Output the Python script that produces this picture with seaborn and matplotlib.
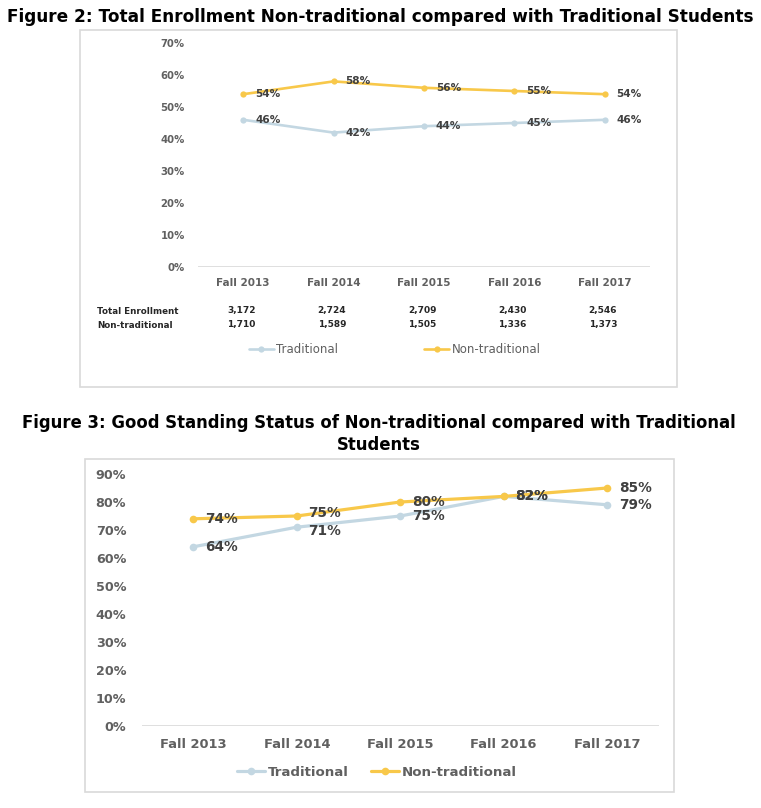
import matplotlib
matplotlib.use("Agg")
import matplotlib.pyplot as plt
import matplotlib.transforms as mtransforms
from matplotlib.patches import Rectangle
import seaborn as sns
import pandas as pd

# ---------------- data ----------------
terms = ["Fall 2013", "Fall 2014", "Fall 2015", "Fall 2016", "Fall 2017"]
series_names = ["Traditional", "Non-traditional"]

enroll_traditional = [0.46, 0.42, 0.44, 0.45, 0.46]
enroll_nontraditional = [0.54, 0.58, 0.56, 0.55, 0.54]
total_enrollment = ["3,172", "2,724", "2,709", "2,430", "2,546"]
nontraditional_count = ["1,710", "1,589", "1,505", "1,336", "1,373"]
table_row_labels = ["Total Enrollment", "Non-traditional"]

good_traditional = [0.64, 0.71, 0.75, 0.82, 0.79]
good_nontraditional = [0.74, 0.75, 0.80, 0.82, 0.85]

title1 = "Figure 2: Total Enrollment Non-traditional compared with Traditional Students"
title2a = "Figure 3: Good Standing Status of Non-traditional compared with Traditional"
title2b = "Students"

y1_ticks = [0, 0.1, 0.2, 0.3, 0.4, 0.5, 0.6, 0.7]
y2_ticks = [0, 0.1, 0.2, 0.3, 0.4, 0.5, 0.6, 0.7, 0.8, 0.9]

# ---------------- style ----------------
sns.set_style("white")
plt.rcParams["font.family"] = ["DejaVu Sans"]

C_TRAD = "#c3d7e2"
C_NON = "#f8c84a"
C_TICK = "#606060"
C_LABEL = "#404040"
C_GRID = "#d9d9d9"
palette = {"Traditional": C_TRAD, "Non-traditional": C_NON}

W, H = 761, 808
fig = plt.figure(figsize=(W / 100, H / 100), dpi=100)
fig.patch.set_facecolor("white")


def fx(x):
    return x / W


def fy(y):
    return 1 - y / H


def long_df(trad, non):
    return pd.DataFrame({
        "term": terms * 2,
        "pct": list(trad) + list(non),
        "group": [series_names[0]] * len(terms) + [series_names[1]] * len(terms),
    })


# boxes around the charts
for (x0, y0, x1, y1) in [(80, 30, 677, 387), (85, 459, 674, 792)]:
    fig.patches.append(Rectangle((fx(x0), fy(y1)), fx(x1) - fx(x0), fy(y0) - fy(y1),
                                 transform=fig.transFigure, fill=False,
                                 edgecolor=C_GRID, linewidth=1.2, zorder=0))


def style_axes(ax, ymax, yticks, ytick_fs, xtick_fs, ypad, xpad):
    ax.set_xlim(-0.5, len(terms) - 0.5)
    ax.set_ylim(0, ymax)
    ax.set_yticks(yticks)
    ax.set_yticklabels([f"{int(round(t * 100))}%" for t in yticks])
    ax.set_xticks(range(len(terms)))
    ax.set_xticklabels(terms)
    for s in ax.spines.values():
        s.set_visible(False)
    ax.grid(False)
    ax.axhline(0, color=C_GRID, lw=1.2, zorder=1)
    ax.tick_params(axis="y", length=0, pad=ypad, labelsize=ytick_fs, labelcolor=C_TICK)
    ax.tick_params(axis="x", length=0, pad=xpad, labelsize=xtick_fs, labelcolor=C_TICK)
    for lab in ax.get_xticklabels() + ax.get_yticklabels():
        lab.set_fontweight("bold")
    ax.set_xlabel("")
    ax.set_ylabel("")
    ax.patch.set_alpha(0)


def add_labels(ax, trad, non, fs, nudge=0.0):
    for k, vals in enumerate((trad, non)):
        other = non if k == 0 else trad
        for i, v in enumerate(vals):
            dy = 0.0
            diff = v - other[i]
            if nudge and 0 < abs(diff) < 0.045:
                dy = nudge if diff > 0 else -nudge
            ax.annotate(f"{int(round(v * 100))}%", (i, v), xytext=(8.5, dy),
                        textcoords="offset points", ha="left", va="center",
                        fontsize=fs, fontweight="bold", color=C_LABEL, zorder=5)


# ---------------- chart 1 ----------------
ax1 = fig.add_axes([fx(198), fy(267), fx(650) - fx(198), fy(43) - fy(267)])
sns.lineplot(data=long_df(enroll_traditional, enroll_nontraditional), x="term", y="pct",
             hue="group", palette=palette, marker="o", markersize=4.5, markeredgewidth=0,
             linewidth=1.9, sort=False, ax=ax1, legend=True)
handles1, labels1 = ax1.get_legend_handles_labels()
ax1.get_legend().remove()
style_axes(ax1, 0.7, y1_ticks, 7.3, 7.5, 9.5, 8)
add_labels(ax1, enroll_traditional, enroll_nontraditional, 7.6)

# table under chart 1
blend1 = mtransforms.blended_transform_factory(ax1.transData, fig.transFigure)
for row_y, row_label, row_vals in [(311, table_row_labels[0], total_enrollment),
                                   (325, table_row_labels[1], nontraditional_count)]:
    fig.text(fx(97), fy(row_y), row_label, ha="left", va="center", fontsize=6.3,
             fontweight="bold", color="#262626")
    for i, v in enumerate(row_vals):
        ax1.text(i - 0.02, fy(row_y), v, transform=blend1, ha="center", va="center",
                 fontsize=6.5, fontweight="bold", color="#262626")

fig.legend(handles1, labels1, loc="center left", bbox_to_anchor=(fx(249), fy(350)),
           frameon=False, borderpad=0, borderaxespad=0, ncol=2, fontsize=8.5,
           handlelength=2.1, handletextpad=0.2, columnspacing=7.3, labelcolor=C_TICK)

# ---------------- chart 2 ----------------
ax2 = fig.add_axes([fx(141.5), fy(726), fx(659) - fx(141.5), fy(474) - fy(726)])
sns.lineplot(data=long_df(good_traditional, good_nontraditional), x="term", y="pct",
             hue="group", palette=palette, marker="o", markersize=5.5, markeredgewidth=0,
             linewidth=2.3, sort=False, ax=ax2, legend=True)
handles2, labels2 = ax2.get_legend_handles_labels()
ax2.get_legend().remove()
style_axes(ax2, 0.9, y2_ticks, 9.2, 9.4, 11, 8.5)
add_labels(ax2, good_traditional, good_nontraditional, 9.8, nudge=2.5)

fig.legend(handles2, labels2, loc="center left", bbox_to_anchor=(fx(237), fy(772)),
           frameon=False, borderpad=0, borderaxespad=0, ncol=2,
           prop={"size": 9.6, "weight": "bold"},
           handlelength=2.1, handletextpad=0.2, columnspacing=1.7, labelcolor=C_TICK)

# ---------------- titles (fit widths to reference) ----------------
renderer = fig.canvas.get_renderer()


def fitted_text(x, y, s, target_px, fs0=11):
    t = fig.text(x, y, s, ha="center", va="center", fontsize=fs0, fontweight="bold",
                 color="black")
    w = t.get_window_extent(renderer).width
    t.set_fontsize(fs0 * target_px / w)
    return t


fitted_text(fx(380), fy(17), title1, 744)
t2 = fitted_text(fx(379), fy(423), title2a, 714)
fig.text(fx(379), fy(445), title2b, ha="center", va="center",
         fontsize=t2.get_fontsize(), fontweight="bold", color="black")

fig.savefig("out.png", dpi=100, facecolor="white")
